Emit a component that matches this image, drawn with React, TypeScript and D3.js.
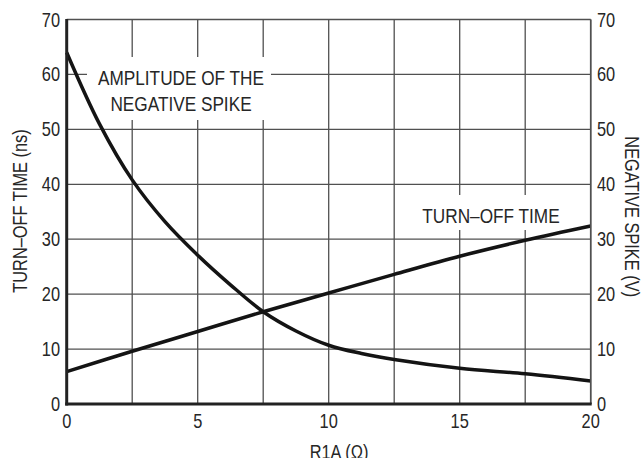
import React from "react";
import * as d3 from "d3";

const spikeX = [0, 1.25, 2.5, 3.75, 5, 6.25, 7.5, 8.75, 10, 11.25, 12.5, 15, 17.5, 20];
const spikeV = [64, 51.0, 40.8, 33.2, 27.1, 21.7, 16.8, 13.3, 10.7, 9.2, 8.1, 6.5, 5.5, 4.2];
const turnX = [0, 2.5, 5, 7.5, 10, 12.5, 15, 17.5, 20];
const turnV = [5.9, 9.6, 13.2, 16.8, 20.2, 23.6, 26.9, 29.8, 32.4];
const xTicks = [0, 5, 10, 15, 20];
const xGrid = [0, 2.5, 5, 7.5, 10, 12.5, 15, 17.5, 20];
const yTicks = [0, 10, 20, 30, 40, 50, 60, 70];

const W = 644, H = 458;
const L = 66.7, R = 590.7, T = 19.5, B = 404;
const FONT = "'Liberation Sans', Arial, Helvetica, sans-serif";
const SX = 0.82;
const TXT = "#262626";

function CText({ x, y, rot = 0, anchor = "middle", size = 20, children }: any) {
  return (
    <g transform={`translate(${x},${y}) rotate(${rot}) scale(${SX},1)`}>
      <text x={0} y={0} textAnchor={anchor} fontFamily={FONT} fontSize={size} fill={TXT}>
        {children}
      </text>
    </g>
  );
}

export default function App() {
  const x = d3.scaleLinear().domain([0, 20]).range([L, R]);
  const y = d3.scaleLinear().domain([0, 70]).range([B, T]);
  const line = d3
    .line<[number, number]>()
    .x((d) => x(d[0]))
    .y((d) => y(d[1]))
    .curve(d3.curveCatmullRom.alpha(0.5));
  const spikePath = line(spikeX.map((v, i) => [v, spikeV[i]]) as [number, number][]) || "";
  const turnPath = line(turnX.map((v, i) => [v, turnV[i]]) as [number, number][]) || "";

  return (
    <div style={{ position: "absolute", left: 0, top: 0 }}>
      <svg width={W} height={H} style={{ display: "block", background: "#fff" }}>
        <rect x={0} y={0} width={W} height={H} fill="#fff" />
        {xGrid.map((g) => (
          <line key={"xg" + g} x1={x(g)} x2={x(g)} y1={T} y2={B} stroke="#505050" strokeWidth={1.3} />
        ))}
        {yTicks.map((g) => (
          <line key={"yg" + g} x1={L} x2={R} y1={y(g)} y2={y(g)} stroke="#505050" strokeWidth={1.3} />
        ))}
        {/* label boxes */}
        <rect x={87} y={57} width={184} height={63} fill="#fff" />
        <rect x={414} y={195} width={154} height={35} fill="#fff" />
        <CText x={181} y={85} size={21}>AMPLITUDE OF THE</CText>
        <CText x={181} y={110.7} size={21}>NEGATIVE SPIKE</CText>
        <CText x={491} y={222.7} size={21}>TURN–OFF TIME</CText>

        <path d={spikePath} fill="none" stroke="#141414" strokeWidth={3.5} />
        <path d={turnPath} fill="none" stroke="#141414" strokeWidth={3.5} />

        {/* frame */}
        <line x1={R} x2={R} y1={T} y2={B} stroke="#505050" strokeWidth={1.6} />
        <line x1={L} x2={L} y1={T - 0.5} y2={B + 1.5} stroke="#222" strokeWidth={3} />
        <line x1={L - 1.5} x2={R + 1} y1={B} y2={B} stroke="#222" strokeWidth={3} />

        {yTicks.map((v) => (
          <CText key={"yl" + v} x={60} y={y(v) + 7} anchor="end" size={20}>
            {String(v)}
          </CText>
        ))}
        {yTicks.map((v) => (
          <CText key={"yr" + v} x={597} y={y(v) + 7} anchor="start" size={20}>
            {String(v)}
          </CText>
        ))}
        {xTicks.map((v) => (
          <CText key={"xl" + v} x={x(v)} y={428} size={20}>
            {String(v)}
          </CText>
        ))}
        <CText x={339} y={459} size={20}>R1A (Ω)</CText>
        <CText x={27} y={211} rot={-90} size={20}>TURN–OFF TIME (ns)</CText>
        <CText x={625} y={216.7} rot={90} size={20}>NEGATIVE SPIKE (V)</CText>
      </svg>
    </div>
  );
}
